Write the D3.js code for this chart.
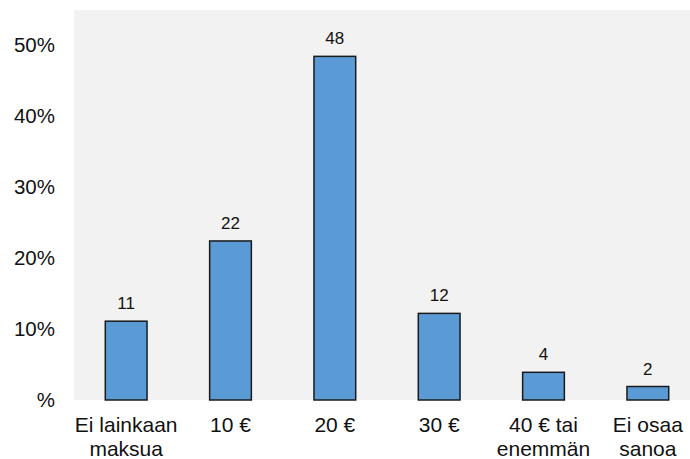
<!DOCTYPE html>
<html>
<head>
<meta charset="utf-8">
<script src="https://cdn.jsdelivr.net/npm/d3@7"></script>
<style>
  body { margin: 0; background: #fff; }
  text { font-family: "Liberation Sans", Arial, sans-serif; fill: #111; }
</style>
</head>
<body>
<div id="chart"></div>
<script>
var categories = [["Ei lainkaan", "maksua"], ["10 €"], ["20 €"], ["30 €"], ["40 € tai", "enemmän"], ["Ei osaa", "sanoa"]];
var values = [11.1, 22.4, 48.4, 12.2, 3.9, 1.9];
var valueLabels = ["11", "22", "48", "12", "4", "2"];
var yTicks = [0, 10, 20, 30, 40, 50];
var yTickLabels = ["%", "10%", "20%", "30%", "40%", "50%"];

var width = 690,
    height = 459,
    plotLeft = 74,
    plotTop = 10,
    plotBottom = 400;

var svg = d3.select("#chart").append("svg")
    .attr("width", width)
    .attr("height", height);

// grey plot area
svg.append("rect")
    .attr("x", plotLeft)
    .attr("y", plotTop)
    .attr("width", width - plotLeft)
    .attr("height", plotBottom - plotTop)
    .attr("fill", "#f2f2f2");

var x = d3.scaleBand()
    .domain(d3.range(categories.length))
    .range([plotLeft, 700])
    .paddingInner(0.6)
    .paddingOuter(0.3);

var y = d3.scaleLinear()
    .domain([0, 50])
    .range([plotBottom, 45]);

svg.selectAll(".ytick")
    .data(yTicks)
    .enter().append("text")
    .attr("class", "ytick")
    .attr("x", 55)
    .attr("y", function(d) { return y(d); })
    .attr("dy", "0.36em")
    .attr("text-anchor", "end")
    .style("font-size", "20.5px")
    .text(function(d, i) { return yTickLabels[i]; });

svg.selectAll(".bar")
    .data(values)
    .enter().append("rect")
    .attr("class", "bar")
    .attr("x", function(d, i) { return x(i); })
    .attr("y", function(d) { return y(d); })
    .attr("width", x.bandwidth())
    .attr("height", function(d) { return plotBottom - y(d); })
    .attr("fill", "#5b9bd5")
    .attr("stroke", "#1a1a1a")
    .attr("stroke-width", 1.5);

svg.selectAll(".vlabel")
    .data(values)
    .enter().append("text")
    .attr("class", "vlabel")
    .attr("x", function(d, i) { return x(i) + x.bandwidth() / 2; })
    .attr("y", function(d) { return y(d) - 12; })
    .attr("text-anchor", "middle")
    .style("font-size", "17px")
    .text(function(d, i) { return valueLabels[i]; });

var cat = svg.selectAll(".xlabel")
    .data(categories)
    .enter().append("text")
    .attr("class", "xlabel")
    .attr("text-anchor", "middle")
    .style("font-size", "21px");

cat.selectAll("tspan")
    .data(function(d, i) { return d.map(function(s) { return { s: s, i: i }; }); })
    .enter().append("tspan")
    .attr("x", function(d) { return x(d.i) + x.bandwidth() / 2; })
    .attr("y", function(d, j) { return 432 + j * 24; })
    .text(function(d) { return d.s; });
</script>
</body>
</html>
